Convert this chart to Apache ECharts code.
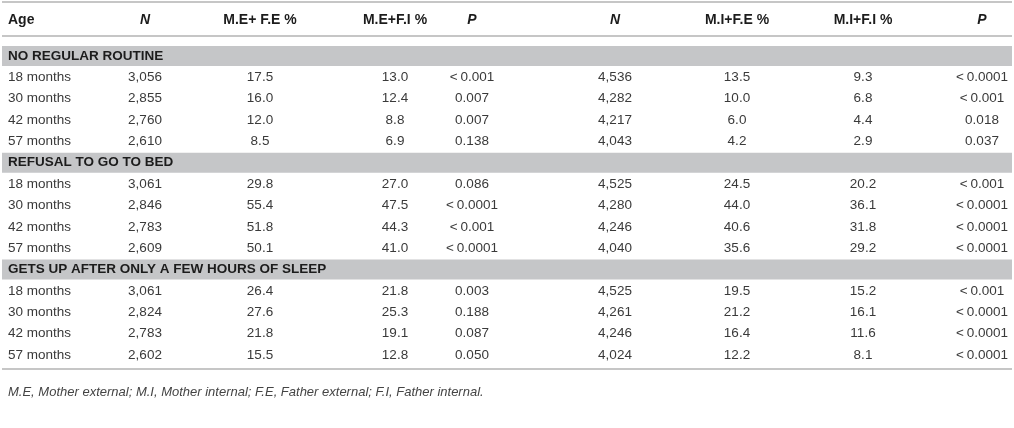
<!DOCTYPE html>
<html>
<head>
<meta charset="utf-8">
<script src="https://cdn.jsdelivr.net/npm/echarts@6/dist/echarts.min.js"></script>
<style>
  html, body { margin: 0; padding: 0; background: #fff; }
  #chart { width: 1014px; height: 428px; }
</style>
</head>
<body>
<div id="chart"></div>
<script>
// table data
var ages = ['18 months', '30 months', '42 months', '57 months']
var sections = ['NO REGULAR ROUTINE', 'REFUSAL TO GO TO BED', 'GETS UP AFTER ONLY A FEW HOURS OF SLEEP']
var headers = ['Age', 'N', 'M.E+ F.E %', 'M.E+F.I %', 'P', 'N', 'M.I+F.E %', 'M.I+F.I %', 'P']

var nExt = [[3056, 2855, 2760, 2610], [3061, 2846, 2783, 2609], [3061, 2824, 2783, 2602]]
var meFe = [[17.5, 16.0, 12.0, 8.5], [29.8, 55.4, 51.8, 50.1], [26.4, 27.6, 21.8, 15.5]]
var meFi = [[13.0, 12.4, 8.8, 6.9], [27.0, 47.5, 44.3, 41.0], [21.8, 25.3, 19.1, 12.8]]
var pExt = [['<0.001', '0.007', '0.007', '0.138'], ['0.086', '<0.0001', '<0.001', '<0.0001'], ['0.003', '0.188', '0.087', '0.050']]
var nInt = [[4536, 4282, 4217, 4043], [4525, 4280, 4246, 4040], [4525, 4261, 4246, 4024]]
var miFe = [[13.5, 10.0, 6.0, 4.2], [24.5, 44.0, 40.6, 35.6], [19.5, 21.2, 16.4, 12.2]]
var miFi = [[9.3, 6.8, 4.4, 2.9], [20.2, 36.1, 31.8, 29.2], [15.2, 16.1, 11.6, 8.1]]
var pInt = [['<0.0001', '<0.001', '0.018', '0.037'], ['<0.001', '<0.0001', '<0.0001', '<0.0001'], ['<0.001', '<0.0001', '<0.0001', '<0.0001']]

var footnote = 'M.E, Mother external; M.I, Mother internal; F.E, Father external; F.I, Father internal.'

// layout (pixels on the x axis, row units on the y axis)
var W = 1014, H = 428
var ROW_H = 21.35, ROW0_Y = 56
var colX = [8, 145, 260, 395, 472, 615, 737, 863, 982]
var HEADER_ROW = -1.69, RULE_TOP = -2.53, RULE_HEAD = -0.94, RULE_BOTTOM = 14.66, NOTE_ROW = 15.74
var BAND_H = 20
var FONT = '"Liberation Sans", Arial, sans-serif'

function fmtN(v) { return v.toLocaleString('en-US') }
function fmtP(s) { return s.charAt(0) == '<' ? '<\u2009' + s.slice(1) : s }

// flatten into table rows
var rows = []
sections.forEach(function (name, s) {
  rows.push({ band: true, label: name })
  ages.forEach(function (age, i) {
    rows.push({
      band: false,
      cells: [age, fmtN(nExt[s][i]), meFe[s][i].toFixed(1), meFi[s][i].toFixed(1), fmtP(pExt[s][i]),
        fmtN(nInt[s][i]), miFe[s][i].toFixed(1), miFi[s][i].toFixed(1), fmtP(pInt[s][i])]
    })
  })
})

function txt(x, y, text, align, font, fill) {
  return {
    type: 'text',
    style: { x: x, y: y, text: text, align: align, verticalAlign: 'middle', textAlign: align, textVerticalAlign: 'middle', font: font, fill: fill }
  }
}

function rule(api, row) {
  var a = api.coord([2, row]), b = api.coord([1012, row])
  return { type: 'line', shape: { x1: a[0], y1: a[1], x2: b[0], y2: b[1] }, style: { stroke: '#b3b3b3', lineWidth: 1.4 } }
}

function renderRow(params, api) {
  var r = rows[params.dataIndex]
  var yc = api.coord([0, params.dataIndex])[1]
  if (r.band) {
    var l = api.coord([2, 0])[0], rr = api.coord([1012, 0])[0]
    return {
      type: 'group', children: [
        { type: 'rect', shape: { x: l, y: yc - BAND_H / 2, width: rr - l, height: BAND_H }, style: { fill: '#c5c6c8' } },
        txt(api.coord([colX[0], 0])[0], yc, r.label, 'left', 'bold 13.5px ' + FONT, '#1c1c1c')
      ]
    }
  }
  var kids = r.cells.map(function (c, j) {
    return txt(api.coord([colX[j], 0])[0], yc, c, j == 0 ? 'left' : 'center', '13.5px ' + FONT, '#3a3a3a')
  })
  return { type: 'group', children: kids }
}

function renderFrame(params, api) {
  var yh = api.coord([0, HEADER_ROW])[1]
  var kids = headers.map(function (h, j) {
    var italic = (h == 'N' || h == 'P') ? 'italic ' : ''
    return txt(api.coord([colX[j], 0])[0], yh, h, j == 0 ? 'left' : 'center', italic + 'bold 14px ' + FONT, '#1c1c1c')
  })
  kids.push(rule(api, RULE_TOP), rule(api, RULE_HEAD), rule(api, RULE_BOTTOM))
  kids.push(txt(api.coord([colX[0], 0])[0], api.coord([0, NOTE_ROW])[1], footnote, 'left', 'italic 13px ' + FONT, '#444'))
  return { type: 'group', children: kids }
}

var myChart = echarts.init(document.getElementById('chart'))
myChart.setOption({
  animation: false,
  grid: { left: 0, right: 0, top: 0, bottom: 0 },
  xAxis: { type: 'value', min: 0, max: W, show: false },
  yAxis: { type: 'value', inverse: true, min: -ROW0_Y / ROW_H, max: (H - ROW0_Y) / ROW_H, show: false },
  series: [
    { type: 'custom', renderItem: renderFrame, data: [[0, HEADER_ROW]], silent: true },
    { type: 'custom', renderItem: renderRow, data: rows.map(function (r, i) { return [0, i] }), silent: true }
  ]
})
</script>
</body>
</html>
